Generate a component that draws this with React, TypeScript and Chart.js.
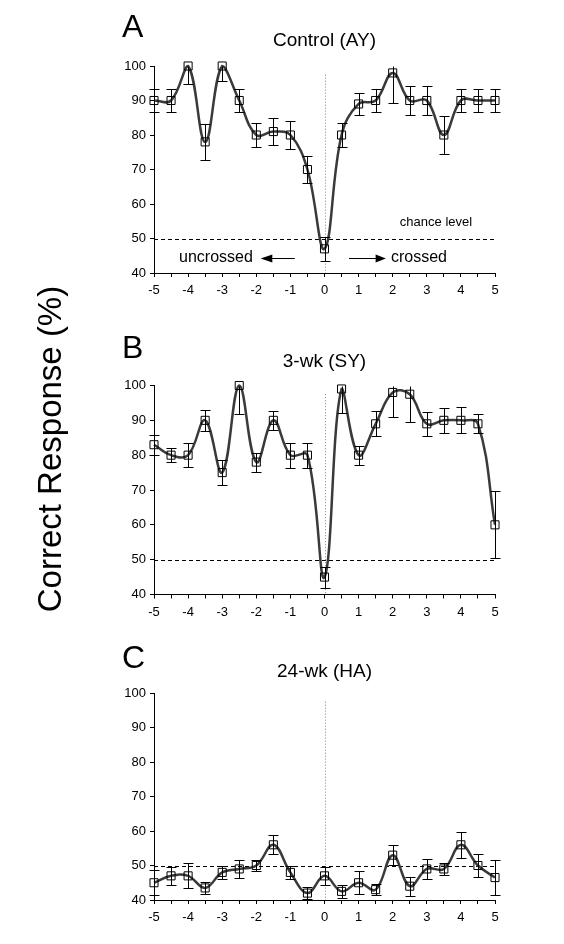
import React, { useEffect, useRef } from 'react';
import { Chart, registerables } from 'chart.js';

Chart.register(...registerables);

const FONT = '"Liberation Sans", Arial, Helvetica, sans-serif';

// Horizontal position (deg) of each measurement
const positions = [-5, -4.5, -4, -3.5, -3, -2.5, -2, -1.5, -1, -0.5, 0, 0.5, 1, 1.5, 2, 2.5, 3, 3.5, 4, 4.5, 5];

// Panel A: Control (AY)
const controlValues = [90, 90, 100, 78, 100, 90, 80, 81, 80, 70, 47, 80, 89, 90, 98, 90, 90, 80, 90, 90, 90];
const controlErrors = [3.3, 3.4, 5.3, 5.3, 4.3, 3.4, 3.4, 3.8, 4, 4, 3.5, 3.4, 3.3, 3.4, 8.8, 4.2, 4.2, 5.5, 3.4, 3.4, 3.3];

// Panel B: 3-wk (SY)
const wk3Values = [83, 80, 80, 90, 75, 100, 78, 90, 80, 80, 45, 99, 80, 89, 98, 97.5, 89, 90, 90, 89, 60];
const wk3Errors = [2.9, 2.1, 3.4, 3.1, 3.6, 8.2, 2.7, 2.8, 3.6, 3.6, 3, 7, 2.7, 3.6, 7, 8, 3.5, 3.5, 3.7, 2.7, 9.6];

// Panel C: 24-wk (HA)
const wk24Values = [45, 47, 47, 43.5, 48, 49, 50, 56, 48, 42, 47, 42.5, 45, 43, 53, 44, 49, 49, 56, 50, 46.5];
const wk24Errors = [3.6, 2.7, 3.6, 1.7, 1.8, 2.7, 1.6, 2.7, 1.8, 1.8, 2.7, 1.8, 3.4, 1.6, 2.8, 2.8, 2.8, 1.8, 3.7, 3.4, 5];

const panelLetters = ['A', 'B', 'C'];
const panelTitles = ['Control (AY)', '3-wk (SY)', '24-wk (HA)'];
const chanceLevel = 50;
const yMin = 40;
const yMax = 100;
const xMin = -5;
const xMax = 5;
const yLabel = 'Correct Response (%)';

const decorPlugin = {
  id: 'panelDecor',
  beforeDatasetsDraw(chart: any, _args: any, opts: any) {
    const { ctx, scales } = chart;
    const x = scales.x;
    const y = scales.y;
    ctx.save();
    // chance level dashed line
    const yc = Math.round(y.getPixelForValue(chanceLevel)) + 0.5;
    ctx.strokeStyle = '#000';
    ctx.lineWidth = 1;
    ctx.setLineDash([4, 3]);
    ctx.beginPath();
    ctx.moveTo(x.getPixelForValue(xMin), yc);
    ctx.lineTo(x.getPixelForValue(xMax), yc);
    ctx.stroke();
    // midline dotted
    const x0 = Math.round(x.getPixelForValue(0)) + 0.5;
    ctx.strokeStyle = '#808080';
    ctx.setLineDash([1, 2]);
    ctx.beginPath();
    ctx.moveTo(x0, y.getPixelForValue(97.5));
    ctx.lineTo(x0, y.getPixelForValue(yMin));
    ctx.stroke();
    ctx.restore();
  },
  afterDatasetsDraw(chart: any, _args: any, opts: any) {
    const { ctx, scales } = chart;
    const x = scales.x;
    const y = scales.y;
    const vals: number[] = opts.values;
    const errs: number[] = opts.errors;
    ctx.save();
    ctx.strokeStyle = '#000';
    ctx.lineWidth = 1;
    ctx.setLineDash([]);
    for (let i = 0; i < positions.length; i++) {
      const px = Math.round(x.getPixelForValue(positions[i])) + 0.5;
      const hiV = vals[i] + errs[i];
      const clamped = hiV > yMax;
      const lo = Math.round(y.getPixelForValue(vals[i] - errs[i])) + 0.5;
      const hi = Math.round(y.getPixelForValue(Math.min(hiV, yMax))) + 0.5;
      ctx.beginPath();
      ctx.moveTo(px, lo);
      ctx.lineTo(px, hi);
      ctx.moveTo(px - 5, lo);
      ctx.lineTo(px + 5, lo);
      if (!clamped) {
        ctx.moveTo(px - 5, hi);
        ctx.lineTo(px + 5, hi);
      }
      ctx.stroke();
    }
    ctx.restore();
  },
  afterDraw(chart: any, _args: any, opts: any) {
    const { ctx, scales, chartArea } = chart;
    const x = scales.x;
    const y = scales.y;
    ctx.save();
    ctx.fillStyle = '#000';
    ctx.textBaseline = 'alphabetic';
    // panel letter
    ctx.font = `32px ${FONT}`;
    ctx.textAlign = 'left';
    ctx.fillText(opts.letter, 122, opts.letterBaseline);
    // title
    ctx.font = `19px ${FONT}`;
    ctx.textAlign = 'center';
    ctx.fillText(opts.title, (chartArea.left + chartArea.right) / 2, opts.titleBaseline);
    if (opts.annotate) {
      ctx.font = `13px ${FONT}`;
      ctx.textAlign = 'center';
      ctx.fillText('chance level', x.getPixelForValue(3.27), y.getPixelForValue(53.7));
      ctx.font = `16px ${FONT}`;
      ctx.textAlign = 'right';
      ctx.fillText('uncrossed', x.getPixelForValue(-2.1), y.getPixelForValue(43.3));
      ctx.textAlign = 'left';
      ctx.fillText('crossed', x.getPixelForValue(1.95), y.getPixelForValue(43.3));
      const ay = Math.round(y.getPixelForValue(44.3)) + 0.5;
      ctx.strokeStyle = '#000';
      ctx.lineWidth = 1.2;
      // left arrow
      ctx.beginPath();
      ctx.moveTo(x.getPixelForValue(-1.55), ay);
      ctx.lineTo(x.getPixelForValue(-0.87), ay);
      ctx.moveTo(x.getPixelForValue(0.72), ay);
      ctx.lineTo(x.getPixelForValue(1.53), ay);
      ctx.stroke();
      ctx.beginPath();
      ctx.moveTo(x.getPixelForValue(-1.87), ay);
      ctx.lineTo(x.getPixelForValue(-1.53), ay - 4);
      ctx.lineTo(x.getPixelForValue(-1.53), ay + 4);
      ctx.closePath();
      ctx.fill();
      ctx.beginPath();
      ctx.moveTo(x.getPixelForValue(1.8), ay);
      ctx.lineTo(x.getPixelForValue(1.5), ay - 4);
      ctx.lineTo(x.getPixelForValue(1.5), ay + 4);
      ctx.closePath();
      ctx.fill();
    }
    ctx.restore();
  },
};

type PanelProps = {
  top: number;
  height: number;
  plotTop: number;
  plotBottom: number;
  values: number[];
  errors: number[];
  letter: string;
  title: string;
  letterBaseline: number;
  titleBaseline: number;
  annotate: boolean;
};

function Panel(p: PanelProps) {
  const ref = useRef<HTMLCanvasElement | null>(null);
  useEffect(() => {
    if (!ref.current) return;
    const xHeight = p.height - p.plotBottom;
    const chart = new Chart(ref.current, {
      type: 'line',
      data: {
        datasets: [
          {
            data: positions.map((v, i) => ({ x: v, y: p.values[i] })),
            borderColor: '#3a3a3a',
            borderWidth: 2.5,
            tension: 0.4,
            pointStyle: 'rect',
            pointRadius: 5.7,
            pointBorderWidth: 1,
            pointBorderColor: '#000',
            pointBackgroundColor: 'rgba(0,0,0,0)',
            clip: false,
          } as any,
        ],
      },
      options: {
        animation: false,
        responsive: false,
        devicePixelRatio: 1,
        layout: { padding: { top: p.plotTop, left: 0, right: 69, bottom: 0 } },
        plugins: {
          legend: { display: false },
          tooltip: { enabled: false },
          panelDecor: {
            values: p.values,
            errors: p.errors,
            letter: p.letter,
            title: p.title,
            letterBaseline: p.letterBaseline,
            titleBaseline: p.titleBaseline,
            annotate: p.annotate,
          },
        } as any,
        scales: {
          x: {
            type: 'linear',
            min: xMin,
            max: xMax,
            afterFit: (s: any) => {
              s.height = xHeight;
            },
            ticks: {
              stepSize: 0.5,
              autoSkip: false,
              maxRotation: 0,
              minRotation: 0,
              padding: 6,
              color: '#000',
              font: { family: FONT, size: 13 },
              callback: (v: any) => (Number.isInteger(v) ? String(v) : ''),
            },
            grid: { drawOnChartArea: false, drawTicks: true, tickLength: 4, color: '#000', lineWidth: 1 },
            border: { display: true, color: '#000', width: 1 },
          },
          y: {
            type: 'linear',
            min: yMin,
            max: yMax,
            afterFit: (s: any) => {
              s.width = 154;
            },
            ticks: {
              stepSize: 10,
              padding: 4,
              color: '#000',
              font: { family: FONT, size: 13 },
            },
            grid: { drawOnChartArea: false, drawTicks: true, tickLength: 4, color: '#000', lineWidth: 1 },
            border: { display: true, color: '#000', width: 1 },
          },
        },
      } as any,
      plugins: [decorPlugin],
    });
    return () => chart.destroy();
  }, []);
  return (
    <canvas
      ref={ref}
      width={564}
      height={p.height}
      style={{ position: 'absolute', left: 0, top: p.top, width: 564, height: p.height, display: 'block' }}
    />
  );
}

export default function App() {
  return (
    <div style={{ position: 'absolute', left: 0, top: 0, width: 564, height: 944, background: '#fff', overflow: 'hidden' }}>
      <Panel
        top={0}
        height={310}
        plotTop={66}
        plotBottom={273}
        values={controlValues}
        errors={controlErrors}
        letter={panelLetters[0]}
        title={panelTitles[0]}
        letterBaseline={37}
        titleBaseline={46}
        annotate={true}
      />
      <Panel
        top={310}
        height={320}
        plotTop={75.5}
        plotBottom={284.5}
        values={wk3Values}
        errors={wk3Errors}
        letter={panelLetters[1]}
        title={panelTitles[1]}
        letterBaseline={48}
        titleBaseline={57}
        annotate={false}
      />
      <Panel
        top={630}
        height={314}
        plotTop={63}
        plotBottom={270}
        values={wk24Values}
        errors={wk24Errors}
        letter={panelLetters[2]}
        title={panelTitles[2]}
        letterBaseline={38}
        titleBaseline={47}
        annotate={false}
      />
      <div
        style={{
          position: 'absolute',
          left: 50 - 220,
          top: 449 - 20,
          width: 440,
          height: 40,
          lineHeight: '40px',
          textAlign: 'center',
          fontFamily: FONT,
          fontSize: 33,
          color: '#000',
          whiteSpace: 'nowrap',
          transform: 'rotate(-90deg)',
        }}
      >
        {yLabel}
      </div>
    </div>
  );
}
